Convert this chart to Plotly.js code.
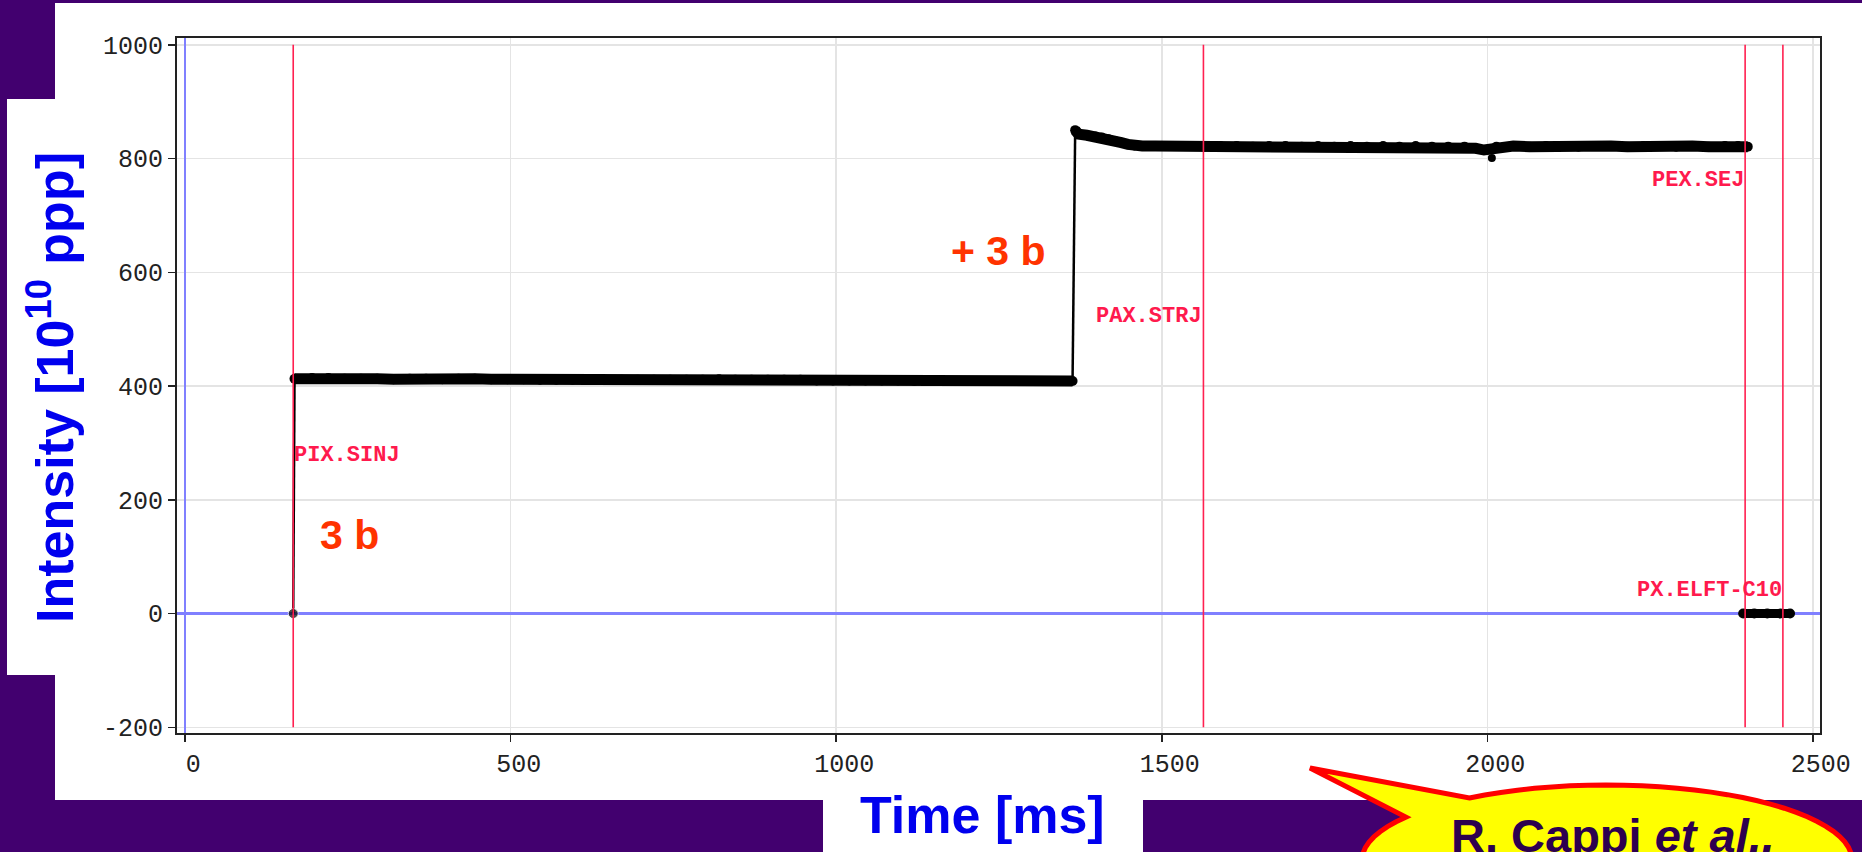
<!DOCTYPE html>
<html><head><meta charset="utf-8">
<script src="https://cdn.plot.ly/plotly-3.0.1.min.js"></script>
<style>html,body{margin:0;padding:0;background:#42006f;overflow:hidden}#chart{width:1862px;height:852px}</style>
</head><body><div id="chart"></div><script>
// ---- data ----
const injT = [166, 168];
const injV = [0, 413];
const plat1T = [168,195,220,245,270,295,320,345,370,395,420,445,470,495,520,545,570,595,620,645,670,695,720,745,770,795,820,845,870,895,920,945,970,995,1020,1045,1070,1095,1120,1145,1170,1195,1220,1245,1270,1295,1320,1345,1363];
const plat1V = [413,414,414,413,413,413,412,413,413,412,413,413,412,412,412,411,411,411,411,411,411,411,411,411,411,411,412,411,411,411,411,411,410,410,410,410,410,410,409,409,409,409,409,409,409,409,409,409,409];
const jumpT = [1363, 1365, 1367];
const jumpV = [409, 630, 848];
const plat2T = [1367,1372,1385,1398,1408,1418,1428,1438,1448,1458,1470,1490,1515,1540,1565,1590,1615,1640,1665,1690,1715,1740,1765,1790,1815,1840,1865,1890,1915,1940,1965,1982,1995,2005,2014,2040,2065,2090,2115,2140,2165,2190,2215,2240,2265,2290,2315,2340,2365,2385,2400];
const plat2V = [850,843,841,839,837,834,831,828,825,823,822,822,822,822,821,822,822,821,822,822,821,822,821,822,821,822,821,822,821,821,821,818,815,817,821,822,821,822,822,821,822,822,821,822,822,821,822,821,822,822,821];
const dipT = [2007];
const dipV = [801];
const ejT = [2393, 2410, 2430, 2450, 2465];
const ejV = [0, 0, 0, 0, 0];
const eventT = [166, 1564, 2396, 2454];
const eventLabels = ['PIX.SINJ', 'PAX.STRJ', 'PEX.SEJ', 'PX.ELFT-C10'];
const eventLabelV = [278, 523, 762, 41];
const noteText = ['3 b', '+ 3 b'];
const noteT = [253, 1249];
const noteV = [138, 637];
const xTicks = [0, 500, 1000, 1500, 2000, 2500];
const yTicks = [-200, 0, 200, 400, 600, 800, 1000];
const xTitle = 'Time [ms]';
const yTitle = 'Intensity [10<sup>10</sup> ppp]';
const credit = '<b>R. Cappi <i>et al.,</i></b>';

// ---- geometry helpers ----
const W = 1862, H = 852, L = 177, R = 42, T = 38, B = 119;
const PW = W - L - R, PH = H - T - B;
const px = x => (x - L) / PW;
const py = y => (H - B - y) / PH;

const black = '#000000';
const traces = [
  {x: injT, y: injV, mode: 'lines+markers', line: {color: black, width: 2.5}, marker: {color: black, size: [10, 0]}, hoverinfo: 'skip'},
  {x: jumpT, y: jumpV, mode: 'lines', line: {color: black, width: 2.5}, hoverinfo: 'skip'},
  {x: plat1T, y: plat1V, mode: 'lines+markers', line: {color: black, width: 11}, marker: {color: black, size: 10}, hoverinfo: 'skip'},
  {x: plat2T, y: plat2V, mode: 'lines+markers', line: {color: black, width: 11}, marker: {color: black, size: 10}, hoverinfo: 'skip'},
  {x: dipT, y: dipV, mode: 'markers', marker: {color: black, size: 8}, hoverinfo: 'skip'},
  {x: ejT, y: ejV, mode: 'lines+markers', line: {color: black, width: 9}, marker: {color: black, size: 10}, hoverinfo: 'skip'}
];

const shapes = [];
// white panels on the purple slide
shapes.push({type: 'rect', xref: 'paper', yref: 'paper', x0: px(55), x1: px(1870), y0: py(800), y1: py(3), fillcolor: '#ffffff', line: {width: 0}, layer: 'below'});
shapes.push({type: 'rect', xref: 'paper', yref: 'paper', x0: px(7), x1: px(60), y0: py(675), y1: py(99), fillcolor: '#ffffff', line: {width: 0}, layer: 'below'});
shapes.push({type: 'rect', xref: 'paper', yref: 'paper', x0: px(823), x1: px(1143), y0: py(860), y1: py(799), fillcolor: '#ffffff', line: {width: 0}, layer: 'below'});
// event lines
eventT.forEach(t => shapes.push({type: 'line', xref: 'x', yref: 'y', x0: t, x1: t, y0: -200, y1: 1000, line: {color: '#ff2050', width: 1.6}, layer: 'above'}));
// speech bubble
(function () {
  const cx = 1607, cy = 860, rx = 245, ry = 75;
  const a1 = Math.atan2(-0.8, -0.543), a2 = Math.atan2(-0.56, -0.804) + 2 * Math.PI;
  let d = '';
  const n = 80;
  for (let i = 0; i <= n; i++) {
    const a = a1 + (a2 - a1) * i / n;
    const X = cx + rx * Math.cos(a), Y = cy + ry * Math.sin(a);
    d += (i === 0 ? 'M' : 'L') + px(X).toFixed(5) + ',' + py(Y).toFixed(5) + ' ';
  }
  d += 'L' + px(1310).toFixed(5) + ',' + py(768).toFixed(5) + ' Z';
  shapes.push({type: 'path', xref: 'paper', yref: 'paper', path: d, fillcolor: '#ffff00', line: {color: '#ff0000', width: 5}, layer: 'above'});
})();

const annotations = [];
eventLabels.forEach((s, i) => annotations.push({
  x: eventT[i], y: eventLabelV[i], xref: 'x', yref: 'y', text: '<b>' + s + '</b>', showarrow: false,
  xanchor: i === 0 ? 'left' : 'right', yanchor: 'middle', xshift: i === 0 ? -1 : 1,
  font: {family: 'Liberation Mono', size: 22, color: '#ff1a4d'}
}));
noteText.forEach((s, i) => annotations.push({
  x: noteT[i], y: noteV[i], xref: 'x', yref: 'y', text: '<b>' + s + '</b>', showarrow: false,
  xanchor: 'center', yanchor: 'middle', font: {family: 'Liberation Sans', size: 41, color: '#ff3300'}
}));
annotations.push({x: px(982), y: py(815), xref: 'paper', yref: 'paper', text: '<b>' + xTitle + '</b>', showarrow: false,
  xanchor: 'center', yanchor: 'middle', font: {family: 'Liberation Sans', size: 52, color: '#0000ee'}});
annotations.push({x: px(51), y: py(388), xref: 'paper', yref: 'paper', text: '<b>' + yTitle + '</b>', showarrow: false, textangle: -90,
  xanchor: 'center', yanchor: 'middle', font: {family: 'Liberation Sans', size: 52, color: '#0000ee'}});
annotations.push({x: px(1449), y: py(835), xref: 'paper', yref: 'paper', text: credit, showarrow: false,
  xanchor: 'left', yanchor: 'middle', font: {family: 'Liberation Sans', size: 47, color: '#2d004f'}});

const axisCommon = {
  showgrid: true, gridcolor: '#e4e4e4', gridwidth: 1.5,
  zeroline: true, zerolinecolor: '#8080ff', zerolinewidth: 2.5,
  showline: true, mirror: true, linecolor: '#222222', linewidth: 2,
  ticks: 'outside', ticklen: 7, tickwidth: 1.5, tickcolor: '#222222',
  tickfont: {family: 'Liberation Mono', size: 25, color: '#222222'},
  fixedrange: true
};

const layout = {
  width: W, height: H,
  margin: {l: L, r: R, t: T, b: B, pad: 0},
  paper_bgcolor: '#42006f', plot_bgcolor: '#ffffff',
  showlegend: false,
  xaxis: Object.assign({}, axisCommon, {range: [-12.5, 2511], tickvals: xTicks, ticktext: xTicks.map(String), ticklabelshift: 8}),
  yaxis: Object.assign({}, axisCommon, {range: [-210, 1012], tickvals: yTicks, ticktext: yTicks.map(v => v < 0 ? '-' + Math.abs(v) : String(v))}),
  shapes: shapes,
  annotations: annotations
};

Plotly.newPlot('chart', traces, layout, {displayModeBar: false, staticPlot: true});
</script></body></html>
